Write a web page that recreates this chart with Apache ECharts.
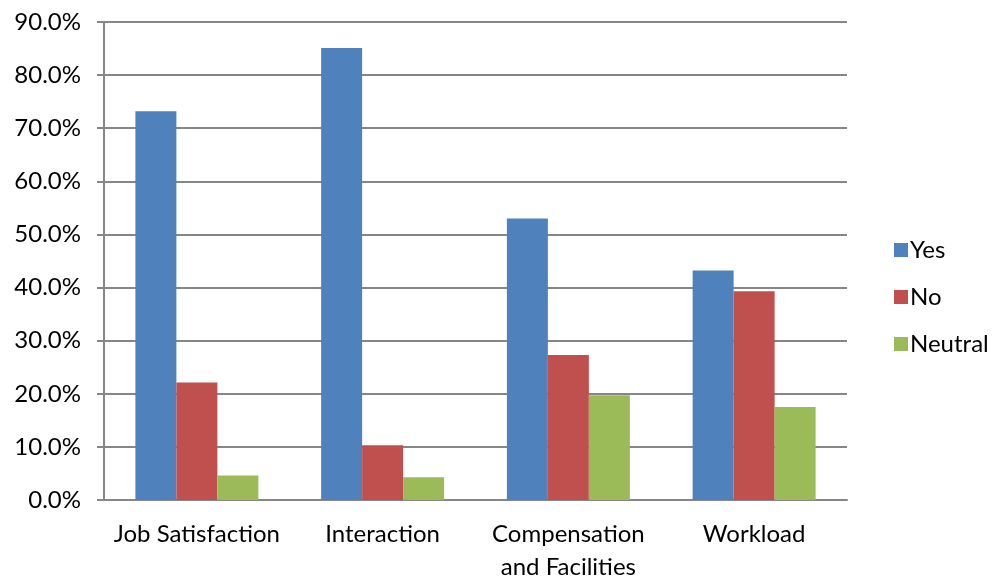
<!DOCTYPE html>
<html>
    <head>
        <meta charset="utf-8">
        <title>Survey bar chart</title>
        <script src="https://cdn.jsdelivr.net/npm/echarts@6/dist/echarts.min.js"></script>
    </head>
    <body style="margin:0;">
        <div id="bar" style="width:995px; height:580px;"></div>
        <script>
            // values in percent
            var categories = ['Job Satisfaction', 'Interaction', 'Compensation\nand Facilities', 'Workload'];
            var yes = [73.2, 85.1, 53.0, 43.2];
            var no = [22.1, 10.3, 27.3, 39.3];
            var neutral = [4.6, 4.3, 19.7, 17.5];
            var yTicks = [0, 10, 20, 30, 40, 50, 60, 70, 80, 90];

            var font = 'Lato';
            var gray = '#868686';

            var chart = echarts.init(document.getElementById('bar'), null, {renderer: 'canvas'});

            function bar(name, data, color) {
                return {
                    name: name,
                    type: 'bar',
                    data: data,
                    barGap: '0%',
                    barCategoryGap: '33.8%',
                    itemStyle: {color: color},
                    emphasis: {disabled: true}
                };
            }

            chart.setOption({
                animation: false,
                textStyle: {fontFamily: font},
                grid: {left: 104, top: 22, right: 148, bottom: 80, outerBoundsMode: 'none', containLabel: false},
                legend: {
                    orient: 'vertical',
                    left: 889,
                    top: 233,
                    itemWidth: 14,
                    itemHeight: 14,
                    itemGap: 23,
                    icon: 'rect',
                    textStyle: {fontSize: 24, color: '#000', fontFamily: font, padding: [0, 0, 0, -3]},
                    data: ['Yes', 'No', 'Neutral']
                },
                xAxis: {
                    type: 'category',
                    data: categories,
                    axisLine: {lineStyle: {color: gray, width: 2}},
                    axisTick: {length: 8, lineStyle: {color: gray, width: 2}},
                    axisLabel: {fontSize: 24, color: '#000', margin: 18, lineHeight: 33, interval: 0}
                },
                yAxis: {
                    type: 'value',
                    min: yTicks[0],
                    max: yTicks[yTicks.length - 1],
                    interval: 10,
                    axisLine: {show: true, lineStyle: {color: gray, width: 2}},
                    axisTick: {show: true, length: 7, lineStyle: {color: gray, width: 2}},
                    splitLine: {lineStyle: {color: gray, width: 2}},
                    axisLabel: {
                        fontSize: 24, color: '#000', margin: 23,
                        formatter: function (v) { return v.toFixed(1) + '%'; }
                    }
                },
                series: [
                    bar('Yes', yes, '#4F81BD'),
                    bar('No', no, '#C0504D'),
                    bar('Neutral', neutral, '#9BBB59')
                ]
            });
        </script>
    </body>
</html>
